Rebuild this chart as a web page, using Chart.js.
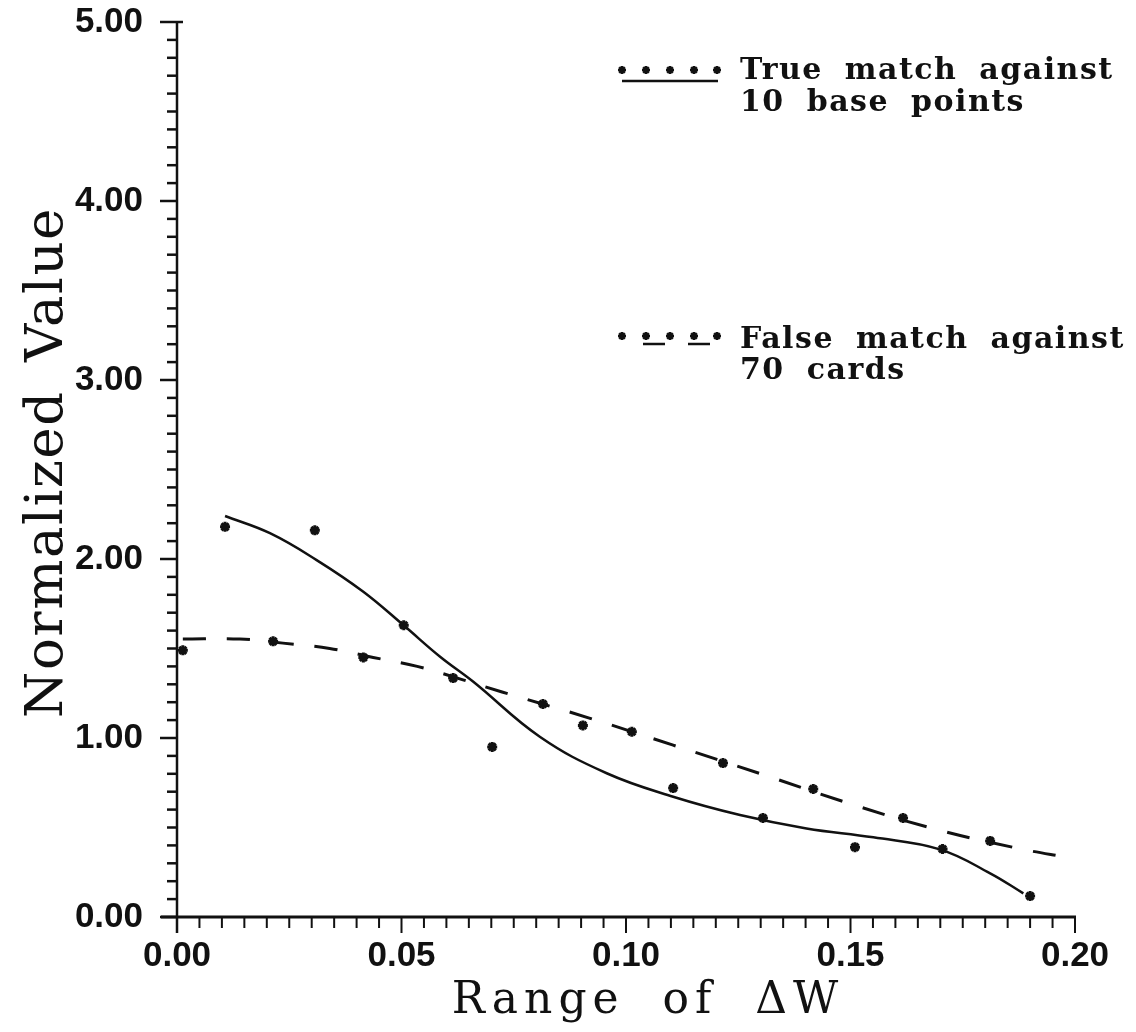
<!DOCTYPE html>
<html>
<head>
<meta charset="utf-8">
<script src="https://cdn.jsdelivr.net/npm/chart.js@4.4.1/dist/chart.umd.min.js"></script>
<style>
  html, body { margin: 0; padding: 0; background: #ffffff; }
  #wrap { width: 1136px; height: 1032px; position: relative; }
</style>
</head>
<body>
<div id="wrap"><canvas id="c" width="1136" height="1032"></canvas></div>
<script>
// Measured points: true match against 10 base points
const trueX = [0.0107, 0.0307, 0.0505, 0.0702, 0.0904, 0.1105, 0.1305, 0.1510, 0.1705, 0.1900];
const trueY = [2.18, 2.16, 1.63, 0.95, 1.07, 0.72, 0.553, 0.39, 0.38, 0.117];

// Smoothed fit through the true-match points
const trueFitX = [0.0107, 0.0207, 0.0311, 0.0415, 0.0504, 0.0586, 0.0660, 0.0808, 0.0957, 0.1105, 0.1254, 0.1402, 0.1551, 0.1699, 0.1811, 0.1885];
const trueFitY = [2.240, 2.144, 1.994, 1.817, 1.631, 1.454, 1.314, 1.007, 0.803, 0.672, 0.570, 0.495, 0.445, 0.378, 0.244, 0.132];

// Measured points: false match against 70 cards
const falseX = [0.0013, 0.0214, 0.0415, 0.0615, 0.0815, 0.1013, 0.1216, 0.1417, 0.1617, 0.1811];
const falseY = [1.49, 1.54, 1.45, 1.335, 1.19, 1.035, 0.86, 0.715, 0.553, 0.425];

// Smoothed fit through the false-match points
const falseFitX = [0.0013, 0.0140, 0.0236, 0.0340, 0.0437, 0.0535, 0.0637, 0.0724, 0.0920, 0.1105, 0.1300, 0.1490, 0.1680, 0.1870, 0.1990];
const falseFitY = [1.553, 1.553, 1.53, 1.50, 1.45, 1.40, 1.325, 1.257, 1.11, 0.96, 0.80, 0.64, 0.497, 0.385, 0.33];

// Axis ticks and labels
const xTicks = [0.00, 0.05, 0.10, 0.15, 0.20];
const xTickLabels = ['0.00', '0.05', '0.10', '0.15', '0.20'];
const yTicks = [0, 1, 2, 3, 4, 5];
const yTickLabels = ['0.00', '1.00', '2.00', '3.00', '4.00', '5.00'];

const xTitle = 'Range of \u0394W';
const yTitle = 'Normalized Value';
const legendTrue = ['True match against', '10 base points'];
const legendFalse = ['False match against', '70 cards'];

const INK = '#111111';
const pts = (xs, ys) => xs.map((x, i) => ({ x, y: ys[i] }));

function labelFor(values, labels, v) {
  const i = values.findIndex(t => Math.abs(t - v) < 1e-9);
  return i >= 0 ? labels[i] : '';
}

function line(ctx, x1, y1, x2, y2) {
  ctx.beginPath(); ctx.moveTo(x1, y1); ctx.lineTo(x2, y2); ctx.stroke();
}

function asterisk(ctx, cx, cy, r) {
  for (let k = 0; k < 4; k++) {
    const a = k * Math.PI / 4;
    line(ctx, cx - r * Math.cos(a), cy - r * Math.sin(a), cx + r * Math.cos(a), cy + r * Math.sin(a));
  }
}

function spacing(ctx, letter, word) {
  if ('letterSpacing' in ctx) ctx.letterSpacing = letter + 'px';
  if ('wordSpacing' in ctx) ctx.wordSpacing = word + 'px';
}

// Axis lines, major/minor tick marks, axis titles and the legend block
const framePlugin = {
  id: 'frame',
  afterDraw(chart) {
    const { ctx, scales: { x, y } } = chart;
    const x0 = x.getPixelForValue(0);
    const y0 = y.getPixelForValue(0);
    const xEnd = x.getPixelForValue(0.2);
    const yTop = y.getPixelForValue(5);
    ctx.save();
    ctx.strokeStyle = INK;
    ctx.fillStyle = INK;
    ctx.lineCap = 'butt';

    ctx.lineWidth = 3;
    line(ctx, x0 - 16, y0, xEnd + 1, y0);
    ctx.lineWidth = 2.5;
    line(ctx, x0, yTop - 1, x0, y0 + 16);

    // y ticks every 0.1, longer at whole units
    ctx.lineWidth = 2.5;
    for (let i = 0; i <= 50; i++) {
      const p = y.getPixelForValue(i / 10);
      const major = i % 10 === 0;
      line(ctx, x0 - (major ? 17 : 10), p, x0 + (i === 50 ? 6 : 0), p);
    }
    // x ticks every 0.005, longer at the labelled values
    ctx.lineWidth = 2;
    for (let i = 0; i <= 40; i++) {
      const p = x.getPixelForValue(i * 0.005);
      const major = i % 10 === 0;
      line(ctx, p, y0, p, y0 + (major ? 16 : 11));
    }

    // axis titles
    ctx.textAlign = 'center';
    ctx.textBaseline = 'alphabetic';
    ctx.font = '44px "DejaVu Serif"';
    spacing(ctx, 6, 18);
    ctx.fillText(xTitle, (x0 + xEnd) / 2 + 22, 1013);
    ctx.save();
    ctx.translate(62, (yTop + y0) / 2 - 7);
    ctx.rotate(-Math.PI / 2);
    ctx.font = '53px "DejaVu Serif"';
    spacing(ctx, 1.5, 10);
    ctx.fillText(yTitle, 0, 0);
    ctx.restore();

    // legend
    const lx = 740;
    ctx.font = 'bold 30px "DejaVu Serif"';
    ctx.textAlign = 'left';
    spacing(ctx, 1.5, 10);
    ctx.fillText(legendTrue[0], lx, 79);
    ctx.fillText(legendTrue[1], lx, 111);
    ctx.fillText(legendFalse[0], lx, 348);
    ctx.fillText(legendFalse[1], lx, 379);
    spacing(ctx, 0, 0);

    const starXs = [622, 646, 670, 694, 717];
    ctx.lineWidth = 2.5;
    starXs.forEach(sx => asterisk(ctx, sx, 70, 4));
    starXs.forEach(sx => asterisk(ctx, sx, 336, 4));
    ctx.lineWidth = 2.5;
    line(ctx, 622, 81, 718, 81);
    line(ctx, 643, 344, 665, 344);
    line(ctx, 688, 344, 710, 344);
    ctx.restore();
  }
};

const tickFont = { family: '"Liberation Sans", Arial, sans-serif', weight: 'bold', size: 35 };

new Chart(document.getElementById('c'), {
  type: 'scatter',
  data: {
    datasets: [
      {
        label: 'True match (fit)',
        data: pts(trueFitX, trueFitY),
        showLine: true,
        borderColor: INK,
        borderWidth: 2.5,
        pointRadius: 0,
        tension: 0.4,
        fill: false
      },
      {
        label: 'False match (fit)',
        data: pts(falseFitX, falseFitY),
        showLine: true,
        borderColor: INK,
        borderWidth: 3,
        borderDash: [23, 21],
        pointRadius: 0,
        tension: 0.4,
        fill: false
      },
      {
        label: 'True match against 10 base points',
        data: pts(trueX, trueY),
        pointStyle: 'star',
        pointRadius: 5,
        borderColor: INK,
        backgroundColor: INK,
        borderWidth: 3
      },
      {
        label: 'False match against 70 cards',
        data: pts(falseX, falseY),
        pointStyle: 'star',
        pointRadius: 5,
        borderColor: INK,
        backgroundColor: INK,
        borderWidth: 3
      }
    ]
  },
  options: {
    responsive: false,
    animation: false,
    events: [],
    layout: { padding: { top: 22, right: 61, left: 0, bottom: 0 } },
    plugins: { legend: { display: false }, tooltip: { enabled: false } },
    scales: {
      x: {
        type: 'linear',
        min: 0,
        max: 0.2,
        grid: { display: false, drawTicks: false },
        border: { display: false },
        ticks: {
          stepSize: 0.05,
          autoSkip: false,
          maxRotation: 0,
          padding: 18,
          color: INK,
          font: tickFont,
          callback: v => labelFor(xTicks, xTickLabels, v)
        },
        afterFit: s => { s.height = 115; s.paddingLeft = 0; s.paddingRight = 0; }
      },
      y: {
        type: 'linear',
        min: 0,
        max: 5,
        grid: { display: false, drawTicks: false },
        border: { display: false },
        ticks: {
          stepSize: 1,
          autoSkip: false,
          padding: 34,
          color: INK,
          font: tickFont,
          callback: v => labelFor(yTicks, yTickLabels, v)
        },
        afterFit: s => { s.width = 177; s.paddingTop = 0; s.paddingBottom = 0; }
      }
    }
  },
  plugins: [framePlugin]
});
</script>
</body>
</html>
